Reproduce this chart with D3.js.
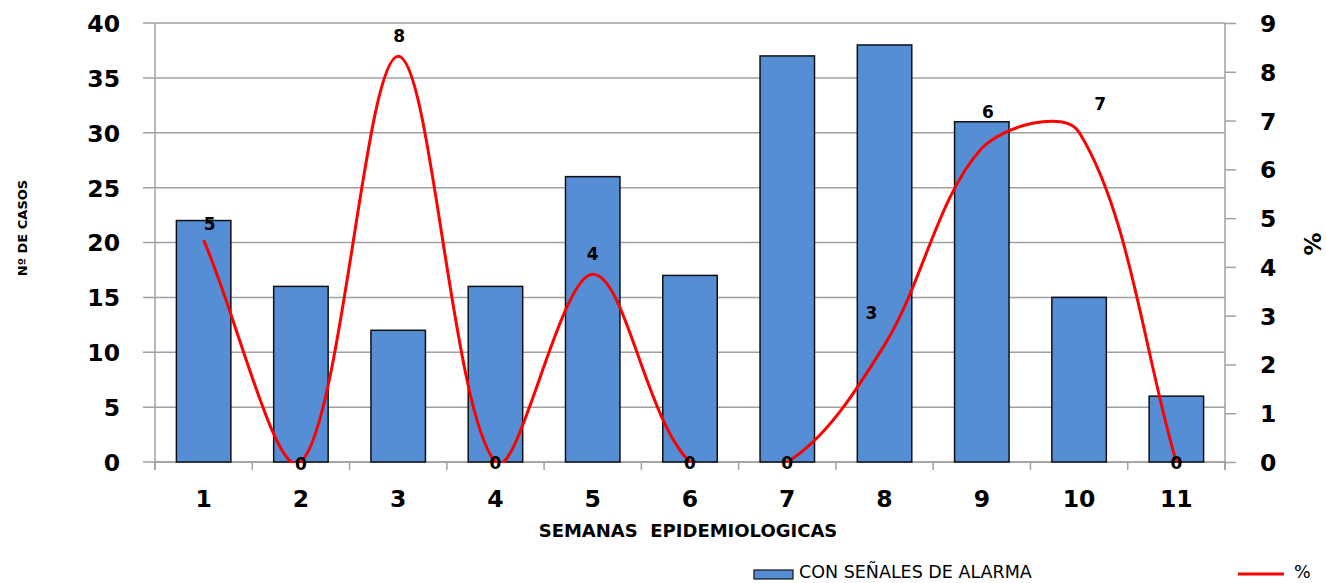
<!DOCTYPE html>
<html>
<head>
<meta charset="utf-8">
<script src="https://cdn.jsdelivr.net/npm/d3@7"></script>
<style>
  html, body { margin: 0; padding: 0; background: #fff; }
  svg { display: block; }
</style>
</head>
<body>
<svg id="chart" width="1326" height="583"></svg>
<script>
// ---- data ----
const weeks = ["1", "2", "3", "4", "5", "6", "7", "8", "9", "10", "11"];
const casos = [22, 16, 12, 16, 26, 17, 37, 38, 31, 15, 6];
const pct = [4.55, 0, 8.32, 0, 3.85, 0, 0, 2.4, 6.43, 6.76, 0];
const pctLabels = ["5", "0", "8", "0", "4", "0", "0", "3", "6", "7", "0"];
const leftTicks = [0, 5, 10, 15, 20, 25, 30, 35, 40];
const rightTicks = [0, 1, 2, 3, 4, 5, 6, 7, 8, 9];
const barSeriesName = "CON SEÑALES DE ALARMA";
const lineSeriesName = "%";
const xTitle = "SEMANAS  EPIDEMIOLOGICAS";
const yTitle = "Nº DE CASOS";
const y2Title = "%";

// ---- layout ----
const plot = { left: 155, right: 1225, top: 23, bottom: 462 };
const gridColor = "#a0a0a0";
const font = "'DejaVu Sans', Verdana, sans-serif";

const svg = d3.select("#chart");

const x = d3.scaleBand().domain(weeks).range([plot.left, plot.right])
  .paddingInner(0.44).paddingOuter(0.22);
const y = d3.scaleLinear().domain([0, 40]).range([plot.bottom, plot.top]);
const y2 = d3.scaleLinear().domain([0, 9]).range([plot.bottom, plot.top]);

// gridlines (left axis major)
svg.append("g").selectAll("line").data(leftTicks).join("line")
  .attr("x1", plot.left - 12).attr("x2", plot.right)
  .attr("y1", d => y(d)).attr("y2", d => y(d))
  .attr("stroke", gridColor).attr("stroke-width", 1.5);

// left axis
const gL = svg.append("g").attr("transform", `translate(${plot.left},0)`)
  .call(d3.axisLeft(y).tickValues(leftTicks).tickSize(0).tickPadding(35));
gL.select(".domain").remove();
gL.selectAll("text").attr("font-family", font).attr("font-weight", "bold")
  .attr("font-size", 23.5).attr("fill", "#000").attr("dy", "0.36em");
svg.append("line").attr("x1", plot.left).attr("x2", plot.left)
  .attr("y1", plot.top).attr("y2", plot.bottom + 8)
  .attr("stroke", gridColor).attr("stroke-width", 1.5);

// right axis
const gR = svg.append("g").attr("transform", `translate(${plot.right},0)`)
  .call(d3.axisRight(y2).tickValues(rightTicks).tickSize(11).tickPadding(24));
gR.select(".domain").attr("stroke", gridColor).attr("stroke-width", 1.5)
  .attr("d", `M0,${plot.top}V${plot.bottom + 8}`);
gR.selectAll(".tick line").attr("stroke", gridColor).attr("stroke-width", 1.5);
gR.selectAll("text").attr("font-family", font).attr("font-weight", "bold")
  .attr("font-size", 23.5).attr("fill", "#000").attr("dy", "0.36em");

// x axis
svg.append("line").attr("x1", plot.left).attr("x2", plot.right)
  .attr("y1", plot.bottom).attr("y2", plot.bottom)
  .attr("stroke", gridColor).attr("stroke-width", 1.5);
const boundaries = weeks.map(w => x(w) - x.step() * x.paddingInner() / 2);
boundaries.push(plot.right);
svg.append("g").selectAll("line").data(boundaries).join("line")
  .attr("x1", d => d).attr("x2", d => d)
  .attr("y1", plot.bottom).attr("y2", plot.bottom + 8)
  .attr("stroke", gridColor).attr("stroke-width", 1.5);
const gX = svg.append("g").attr("transform", `translate(0,${plot.bottom})`)
  .call(d3.axisBottom(x).tickSize(0).tickPadding(28));
gX.select(".domain").remove();
gX.selectAll("text").attr("font-family", font).attr("font-weight", "bold")
  .attr("font-size", 23.5).attr("fill", "#000");

// bars
svg.append("g").selectAll("rect").data(casos).join("rect")
  .attr("x", (d, i) => x(weeks[i]))
  .attr("y", d => y(d))
  .attr("width", x.bandwidth())
  .attr("height", d => y(0) - y(d))
  .attr("fill", "#558ed5")
  .attr("stroke", "#111").attr("stroke-width", 1.5);

// smoothed line (Excel-like bezier smoothing)
const pts = pct.map((v, i) => [x(weeks[i]) + x.bandwidth() / 2, y2(v)]);
function dist(a, b) { return Math.hypot(a[0] - b[0], a[1] - b[1]); }
const path = d3.path();
path.moveTo(pts[0][0], pts[0][1]);
for (let i = 0; i < pts.length - 1; i++) {
  const p0 = pts[i - 1] || pts[i];
  const p1 = pts[i], p2 = pts[i + 1];
  const p3 = pts[i + 2] || pts[i + 1];
  const d01 = dist(p0, p1), d12 = dist(p1, p2), d23 = dist(p2, p3);
  const r1 = d12 / (d01 + d12) / 3;
  const r2 = d12 / (d12 + d23) / 3;
  const c1 = [p1[0] + (p2[0] - p0[0]) * r1, p1[1] + (p2[1] - p0[1]) * r1];
  const c2 = [p2[0] - (p3[0] - p1[0]) * r2, p2[1] - (p3[1] - p1[1]) * r2];
  path.bezierCurveTo(c1[0], c1[1], c2[0], c2[1], p2[0], p2[1]);
}
svg.append("clipPath").attr("id", "clip").append("rect")
  .attr("x", plot.left).attr("y", 0)
  .attr("width", plot.right - plot.left).attr("height", plot.bottom + 1);
svg.append("path").attr("d", path.toString())
  .attr("clip-path", "url(#clip)")
  .attr("fill", "none").attr("stroke", "#ff0000").attr("stroke-width", 3);

// data labels (offsets relative to each point)
const labelOffsets = [[6, -16], [0, 2], [1, -20], [0, 1], [0, -20], [0, 1], [0, 1], [-13, -32], [6, -36], [21, -28], [0, 1]];
svg.append("g").selectAll("text").data(pctLabels).join("text")
  .attr("x", (d, i) => pts[i][0] + labelOffsets[i][0])
  .attr("y", (d, i) => pts[i][1] + labelOffsets[i][1])
  .attr("dy", "0.36em")
  .attr("text-anchor", "middle")
  .attr("font-family", font).attr("font-weight", "bold").attr("font-size", 17)
  .attr("fill", "#000")
  .text(d => d);

// axis titles
svg.append("text").attr("x", 688).attr("y", 537)
  .attr("text-anchor", "middle")
  .attr("font-family", font).attr("font-weight", "bold").attr("font-size", 18)
  .attr("fill", "#000").attr("xml:space", "preserve").text(xTitle);
svg.append("text").attr("transform", "translate(27,228) rotate(-90)")
  .attr("text-anchor", "middle")
  .attr("font-family", font).attr("font-weight", "bold").attr("font-size", 13)
  .attr("fill", "#000").text(yTitle);
svg.append("text").attr("transform", "translate(1321,244) rotate(-90)")
  .attr("text-anchor", "middle")
  .attr("font-family", font).attr("font-weight", "bold").attr("font-size", 23)
  .attr("fill", "#000").text(y2Title);

// legend
svg.append("rect").attr("x", 754).attr("y", 570).attr("width", 39).attr("height", 9)
  .attr("fill", "#558ed5").attr("stroke", "#111").attr("stroke-width", 1.2);
svg.append("text").attr("x", 799).attr("y", 578)
  .attr("font-family", font).attr("font-size", 17.5).attr("fill", "#000")
  .text(barSeriesName);
svg.append("line").attr("x1", 1238).attr("x2", 1284).attr("y1", 574).attr("y2", 574)
  .attr("stroke", "#ff0000").attr("stroke-width", 3);
svg.append("text").attr("x", 1294).attr("y", 578)
  .attr("font-family", font).attr("font-size", 17.5).attr("fill", "#000")
  .text(lineSeriesName);
</script>
</body>
</html>
